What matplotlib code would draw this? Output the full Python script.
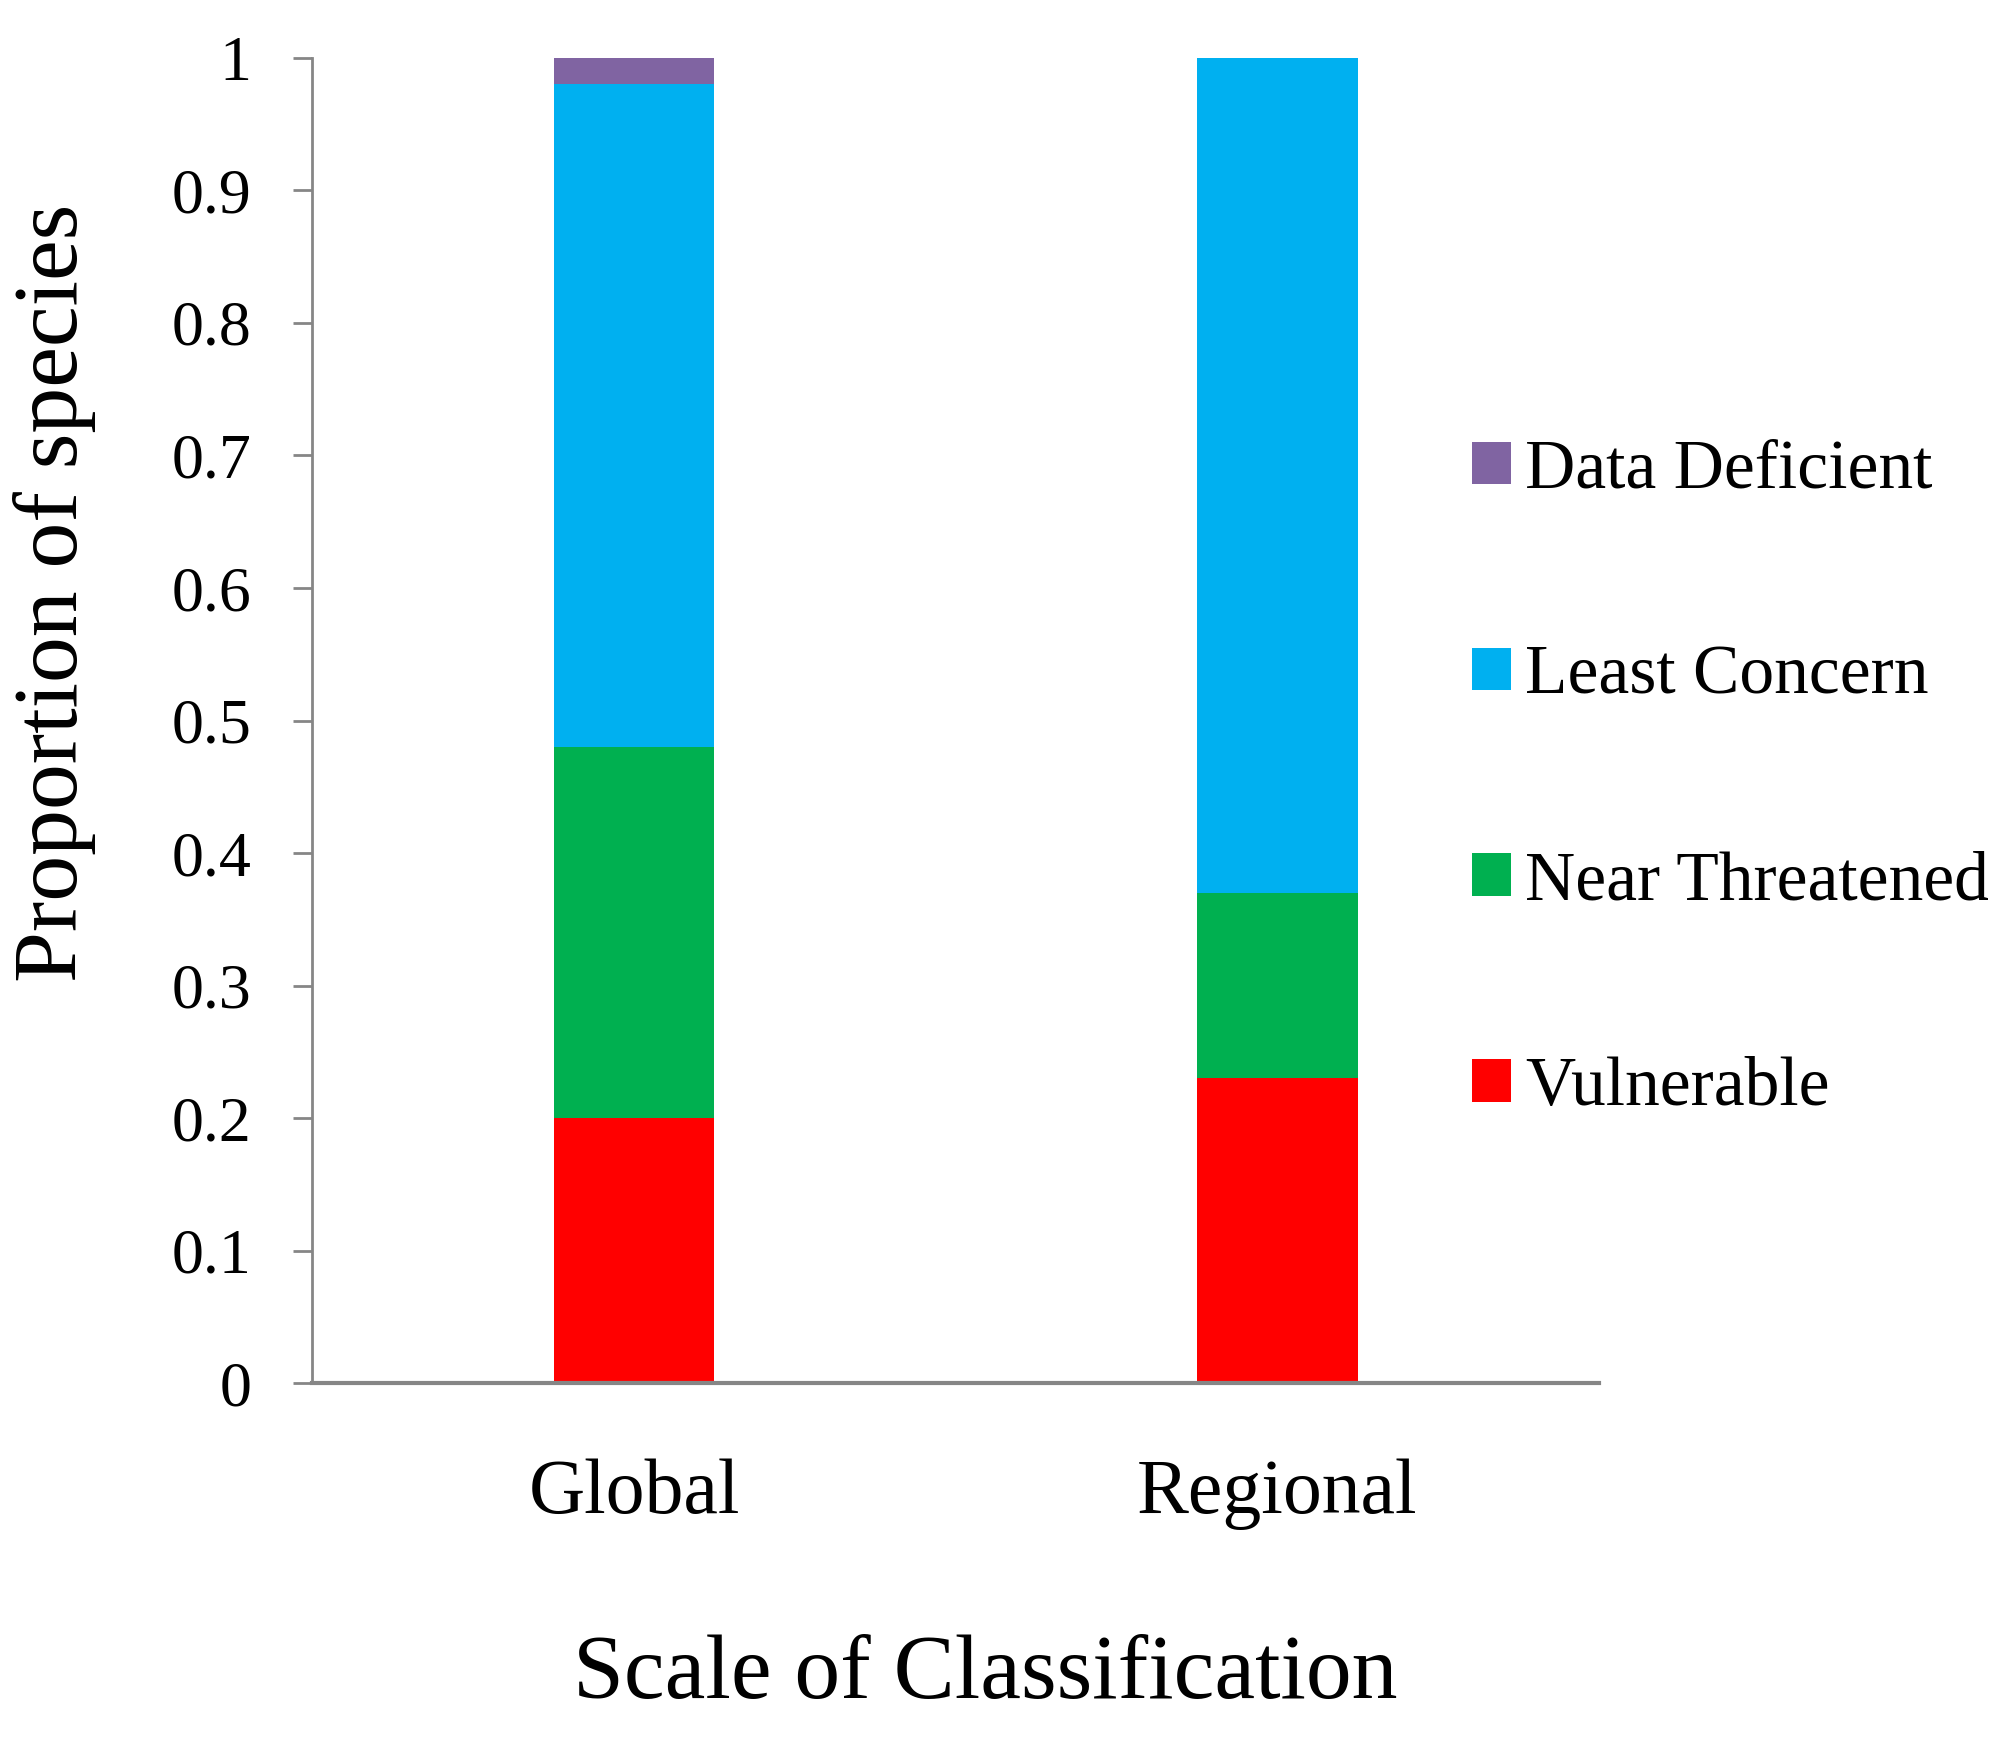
import matplotlib
matplotlib.use("Agg")
import matplotlib.pyplot as plt
import numpy as np

categories = ["Global", "Regional"]
series_names = ["Vulnerable", "Near Threatened", "Least Concern", "Data Deficient"]
vulnerable = [0.20, 0.23]
near_threatened = [0.28, 0.14]
least_concern = [0.50, 0.63]
data_deficient = [0.02, 0.00]
colors = ["#FF0000", "#00B050", "#00B0F0", "#8064A2"]
yticks = [0, 0.1, 0.2, 0.3, 0.4, 0.5, 0.6, 0.7, 0.8, 0.9, 1]
ytick_labels = ["0", "0.1", "0.2", "0.3", "0.4", "0.5", "0.6", "0.7", "0.8", "0.9", "1"]

plt.rcParams['font.family'] = ['Liberation Serif', 'DejaVu Serif']

fig = plt.figure(figsize=(20.16, 17.41), dpi=100)
ax = fig.add_axes([0.155, 0.2056, 0.638, 0.7611])

x = np.arange(len(categories))
bottom = np.zeros(len(categories))
handles = []
for vals, name, col in zip([vulnerable, near_threatened, least_concern, data_deficient], series_names, colors):
    b = ax.bar(x, vals, width=0.25, bottom=bottom, color=col, label=name, linewidth=0)
    handles.append(b)
    bottom = bottom + np.array(vals)

ax.set_xlim(-0.5, 1.5)
ax.set_ylim(0, 1)
ax.set_yticks(yticks)
ax.set_yticklabels(ytick_labels)
ax.set_xticks(x)
ax.set_xticklabels(categories)

for s in ['top', 'right']:
    ax.spines[s].set_visible(False)
for s in ['left', 'bottom']:
    ax.spines[s].set_color('#868686')
    ax.spines[s].set_linewidth(2)
ax.spines['bottom'].set_linewidth(3)
ax.tick_params(axis='y', direction='out', length=14, width=2, color='#868686', labelsize=46, pad=30)
ax.tick_params(axis='x', length=0, labelsize=56, pad=54)

ax.set_ylabel("Proportion of species", fontsize=66)
ax.yaxis.set_label_coords(-0.168, 0.596)
ax.set_xlabel("Scale of Classification", fontsize=66)
ax.xaxis.set_label_coords(0.523, -0.19)

leg = fig.legend(handles[::-1], series_names[::-1], loc='center left',
                 bbox_to_anchor=(1472/2016, 1 - (471+1088)/2/1741),
                 frameon=False, fontsize=50, borderpad=0, borderaxespad=0,
                 handlelength=0.56, handleheight=0.56, handletextpad=0.2,
                 labelspacing=2.05)

fig.savefig("out.png", dpi=100)
